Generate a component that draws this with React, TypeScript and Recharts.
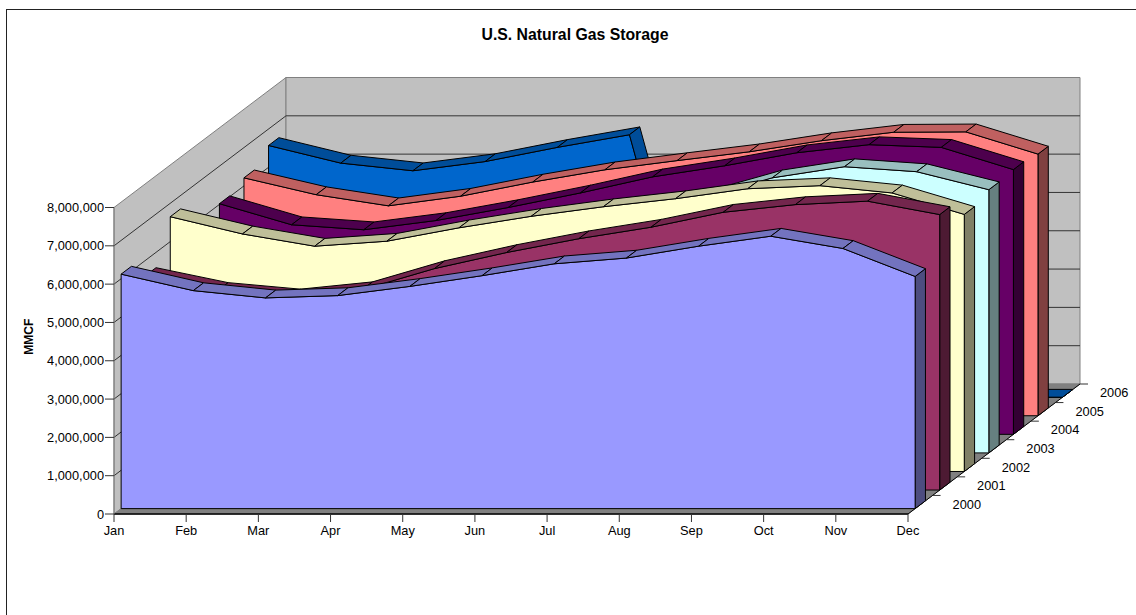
import { Area, AreaChart, ReferenceArea, ReferenceLine, XAxis, YAxis } from 'recharts'

const months = ['Jan', 'Feb', 'Mar', 'Apr', 'May', 'Jun', 'Jul', 'Aug', 'Sep', 'Oct', 'Nov', 'Dec']
const years = ['2000', '2001', '2002', '2003', '2004', '2005', '2006']

const y2000 = [6120000, 5690000, 5500000, 5560000, 5800000, 6080000, 6390000, 6540000, 6850000, 7110000, 6790000, 6060000]
const y2001 = [5600000, 5210000, 5040000, 5230000, 5780000, 6200000, 6560000, 6860000, 7250000, 7450000, 7540000, 7190000]
const y2002 = [6650000, 6200000, 5880000, 6010000, 6360000, 6660000, 6910000, 7120000, 7380000, 7460000, 7270000, 6710000]
const y2003 = [5600000, 5200000, 5000000, 5200000, 5500000, 5900000, 6300000, 6650000, 7180000, 7470000, 7340000, 6870000]
const y2004 = [6020000, 5470000, 5340000, 5580000, 5920000, 6300000, 6720000, 7010000, 7350000, 7560000, 7490000, 6910000]
const y2005 = [6210000, 5770000, 5480000, 5730000, 6100000, 6420000, 6660000, 6890000, 7180000, 7400000, 7410000, 6830000]
const y2006 = [6570000, 6110000, 5910000, 6150000, 6520000, 6850000, 0, 0, 0, 0, 0, 0]

const yTicks = [0, 1000000, 2000000, 3000000, 4000000, 5000000, 6000000, 7000000, 8000000]

const seriesValues = [y2000, y2001, y2002, y2003, y2004, y2005, y2006]
const faceColors = ['#9999FF', '#993366', '#FFFFCC', '#CCFFFF', '#660066', '#FF8080', '#0066CC']
const topColors = ['#7373BF', '#73264D', '#BFBF99', '#99BFBF', '#4D004D', '#BF6060', '#004D99']
const sideColors = ['#4D4D80', '#4D1A33', '#808066', '#668080', '#330033', '#804040', '#003366']

const data = months.map((month, i) => {
  const row: Record<string, string | number> = { month }
  years.forEach((year, s) => {
    row[year] = seriesValues[s][i]
  })
  return row
})

const WIDTH = 1136
const HEIGHT = 615
const margin = { top: 207.5, right: 228, bottom: 0, left: 0 }
const FLOOR_Y = 514
const DEPTH_X = 172
const DEPTH_Y = 130
const CELL_X = DEPTH_X / years.length
const CELL_Y = DEPTH_Y / years.length
const GAP = 0.29
const RIBBON = 0.42
const FONT = '"Liberation Sans", Arial, sans-serif'
const tickStyle = { fontSize: 12.8, fill: '#000', fontFamily: FONT }

const poly = (pts: number[][]) => pts.map((p) => p.join(',')).join(' ')

function Walls({ x, y, width, height }: any) {
  const bottom = y + height
  const right = x + width
  return (
    <g>
      <polygon
        points={poly([[x, bottom], [x, y], [x + DEPTH_X, y - DEPTH_Y], [x + DEPTH_X, bottom - DEPTH_Y]])}
        fill="#C0C0C0"
        stroke="#808080"
      />
      <polygon
        points={poly([[x + DEPTH_X, y - DEPTH_Y], [right + DEPTH_X, y - DEPTH_Y], [right + DEPTH_X, bottom - DEPTH_Y], [x + DEPTH_X, bottom - DEPTH_Y]])}
        fill="#C0C0C0"
        stroke="#808080"
      />
      <polygon
        points={poly([[x, bottom], [right, bottom], [right + DEPTH_X, bottom - DEPTH_Y], [x + DEPTH_X, bottom - DEPTH_Y]])}
        fill="#808080"
        stroke="#808080"
      />
      <line x1={right} y1={bottom} x2={right + DEPTH_X} y2={bottom - DEPTH_Y} stroke="#000" />
    </g>
  )
}

function WallLine({ x1, y1, x2 }: any) {
  return (
    <polyline
      points={poly([[x1, y1], [x1 + DEPTH_X, y1 - DEPTH_Y], [x2 + DEPTH_X, y1 - DEPTH_Y]])}
      fill="none"
      stroke="#333"
    />
  )
}

// one 3D ribbon per year, shifted back along the depth axis from the points the Area computed
const ribbon = (s: number) => (props: any) => {
  const { index, points, key } = props
  if (index !== 0) return <g key={key} />
  const ox = (s + GAP) * CELL_X
  const oy = (s + GAP) * CELL_Y
  const rx = RIBBON * CELL_X
  const ry = RIBBON * CELL_Y
  const front = points.map((p: any) => [p.x + ox, p.y - oy])
  const base = FLOOR_Y - oy
  const first = front[0]
  const last = front[front.length - 1]
  const axisRight = points[points.length - 1].x
  const tickX = axisRight + (s + 1) * CELL_X
  const tickY = FLOOR_Y - (s + 1) * CELL_Y
  const midX = axisRight + (s + 0.5) * CELL_X
  const midY = FLOOR_Y - (s + 0.5) * CELL_Y
  return (
    <g key={key}>
      <polygon
        points={poly([[last[0], last[1]], [last[0] + rx, last[1] - ry], [last[0] + rx, base - ry], [last[0], base]])}
        fill={sideColors[s]}
        stroke="#000"
      />
      <polygon points={poly([[first[0], base], ...front, [last[0], base]])} fill={faceColors[s]} stroke="#000" />
      {front.slice(0, -1).map((p: number[], i: number) => {
        const n = front[i + 1]
        return (
          <polygon
            key={i}
            points={poly([p, n, [n[0] + rx, n[1] - ry], [p[0] + rx, p[1] - ry]])}
            fill={topColors[s]}
            stroke="#000"
          />
        )
      })}
      <line x1={tickX} y1={tickY} x2={tickX + 8} y2={tickY} stroke="#333" />
      <text
        x={midX + 46.5}
        y={midY + 4}
        textAnchor="middle"
        fontSize={tickStyle.fontSize}
        fontFamily={FONT}
        fill="#000"
      >
        {years[s]}
      </text>
    </g>
  )
}

export default function App() {
  return (
    <div style={{ position: 'absolute', left: 0, top: 0, width: WIDTH, height: HEIGHT, overflow: 'hidden', background: '#fff' }}>
      <div
        style={{
          position: 'absolute',
          left: 6,
          top: 8.5,
          width: WIDTH,
          height: HEIGHT,
          border: '1.5px solid #222',
        }}
      />
      <div
        style={{
          position: 'absolute',
          left: 375,
          width: 400,
          top: 26,
          textAlign: 'center',
          fontFamily: FONT,
          fontWeight: 'bold',
          fontSize: 15.8,
          lineHeight: '18px',
          color: '#000',
        }}
      >
        U.S. Natural Gas Storage
      </div>
      <div style={{ position: 'absolute', left: 0, top: 0 }}>
        <AreaChart width={WIDTH} height={HEIGHT} data={data} margin={margin}>
          <XAxis
            dataKey="month"
            height={101}
            tick={tickStyle}
            tickLine={{ stroke: '#333' }}
            axisLine={{ stroke: '#000', strokeWidth: 1.5 }}
            tickSize={8}
            tickMargin={4}
            interval={0}
          />
          <YAxis
            width={114}
            domain={[0, 8000000]}
            ticks={yTicks}
            tick={tickStyle}
            tickLine={{ stroke: '#333' }}
            axisLine={{ stroke: '#808080' }}
            tickSize={9}
            tickMargin={1}
            interval={0}
            tickFormatter={(v: number) => v.toLocaleString('en-US')}
            label={{
              value: 'MMCF',
              angle: -90,
              position: 'insideLeft',
              dx: 24,
              dy: -24,
              style: { fontSize: 12, fontWeight: 'bold', fontFamily: FONT, fill: '#000', textAnchor: 'middle' },
            }}
          />
          <ReferenceArea y1={0} y2={8000000} ifOverflow="visible" shape={Walls} zIndex={-10} />
          {yTicks.slice(1, -1).map((v) => (
            <ReferenceLine key={v} y={v} ifOverflow="visible" shape={WallLine} zIndex={-5} />
          ))}
          {years
            .map((year, s) => (
              <Area
                key={year}
                dataKey={year}
                type="linear"
                fill="none"
                stroke="none"
                dot={ribbon(s)}
                activeDot={false}
                isAnimationActive={false}
              />
            ))
            .reverse()}
        </AreaChart>
      </div>
    </div>
  )
}
